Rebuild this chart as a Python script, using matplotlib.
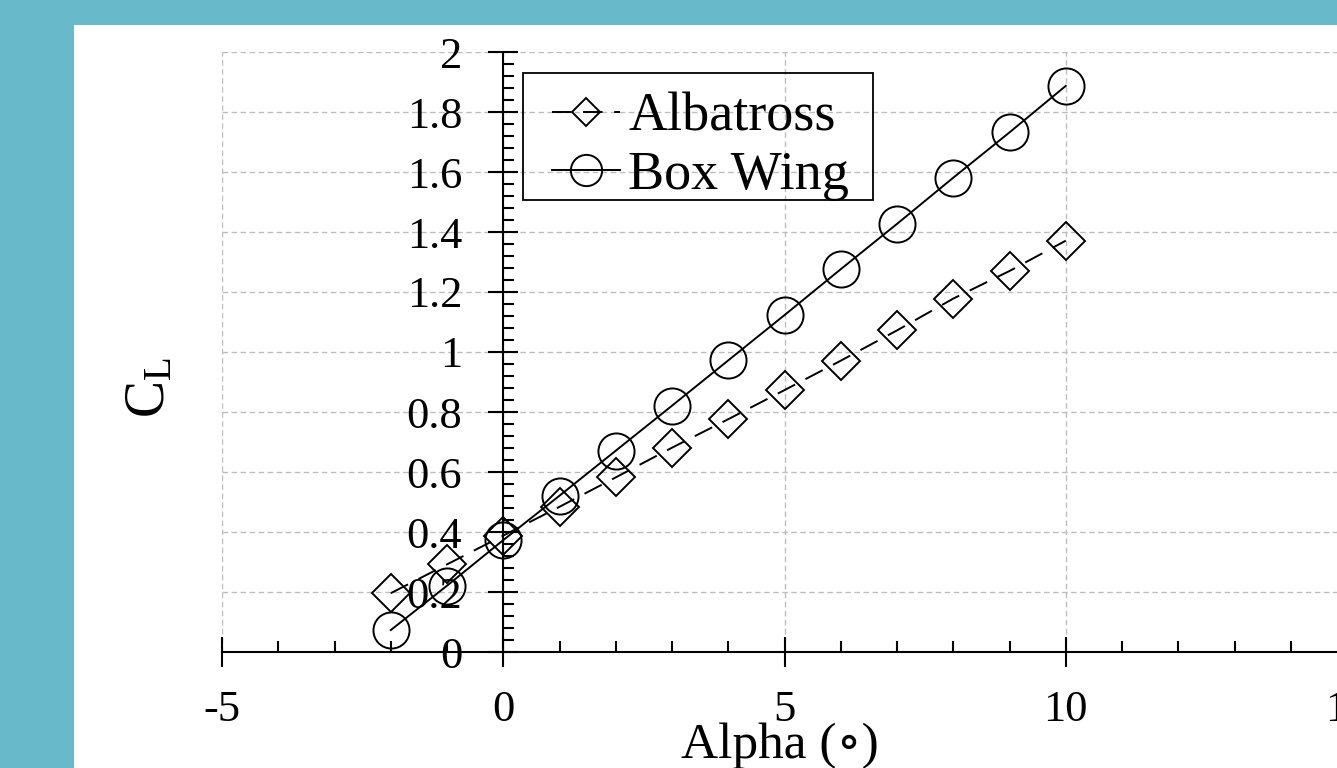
import matplotlib
matplotlib.use("Agg")
import matplotlib.pyplot as plt
from matplotlib.patches import Rectangle
from matplotlib.lines import Line2D
from matplotlib.ticker import MultipleLocator, FuncFormatter

plt.rcParams["font.family"] = ["Liberation Serif", "DejaVu Serif"]
plt.rcParams["mathtext.fontset"] = "custom"
plt.rcParams["mathtext.rm"] = "Liberation Serif"
plt.rcParams["axes.unicode_minus"] = False

# angle of attack (deg) and lift coefficient
alpha = [-2, -1, 0, 1, 2, 3, 4, 5, 6, 7, 8, 9, 10]
cl_albatross = [0.196, 0.292, 0.388, 0.484, 0.582, 0.681, 0.776, 0.873,
                0.971, 1.072, 1.178, 1.270, 1.371]
cl_boxwing = [0.073, 0.221, 0.373, 0.521, 0.671, 0.821, 0.972, 1.123,
              1.276, 1.427, 1.581, 1.732, 1.887]
labels = ["Albatross", "Box Wing"]

W, H = 1337, 768
fig = plt.figure(figsize=(W / 100, H / 100), dpi=100, facecolor="#68bacb")
fig.patches.append(Rectangle((74 / W, 0), 1, (H - 25) / H, transform=fig.transFigure,
                             facecolor="white", edgecolor="none", zorder=-5))

# axes: x -5..15 spans px 222..1347, y 0..2 spans px 652..52
ax = fig.add_axes([222 / W, (H - 652) / H, 1125 / W, 600 / H])
ax.set_facecolor("none")
ax.set_xlim(-5, 15)
ax.set_ylim(0, 2)

for s in ("top", "right"):
    ax.spines[s].set_visible(False)
ax.spines["left"].set_position(("data", 0))
ax.spines["left"].set_linewidth(1.5)
ax.spines["bottom"].set_linewidth(1.5)

ax.xaxis.set_major_locator(MultipleLocator(5))
ax.xaxis.set_minor_locator(MultipleLocator(1))
ax.yaxis.set_major_locator(MultipleLocator(0.2))
ax.yaxis.set_minor_locator(MultipleLocator(0.04))
ax.yaxis.set_major_formatter(FuncFormatter(lambda v, p: f"{v:g}"))
ax.xaxis.set_major_formatter(FuncFormatter(lambda v, p: f"{v:g}"))

ax.tick_params(which="major", direction="inout", length=21, width=1.5, labelsize=32)
ax.tick_params(which="minor", direction="in", length=8, width=1.5)
ax.tick_params(axis="y", which="major", pad=19)
ax.tick_params(axis="x", which="major", pad=17)

ax.grid(True, which="major", color="#bdbdbd", ls=(0, (4, 2.5)), lw=1.0)
ax.set_axisbelow(True)

lw = 1.4
ax.plot(alpha, cl_albatross, color="k", lw=lw, ls=(0, (10, 6)), marker="D",
        ms=19, mfc="none", mew=lw, zorder=3)
ax.plot(alpha, cl_boxwing, color="k", lw=lw, ls="-", marker="o",
        ms=26, mfc="none", mew=lw, zorder=3)

# legend: content without frame, frame drawn separately
handles = [
    Line2D([], [], color="k", lw=lw, ls=(0, (10, 6)), marker="D", ms=14.5,
           mfc="none", mew=lw),
    Line2D([], [], color="k", lw=lw, ls="-", marker="o", ms=22.5,
           mfc="none", mew=lw),
]
ax.legend(handles, labels, loc="upper left",
          bbox_to_anchor=(552 / W, 1 - 92 / H), bbox_transform=fig.transFigure,
          borderaxespad=0, borderpad=0, fontsize=39, frameon=False,
          handlelength=1.26, handletextpad=0.15, labelspacing=0.15)
fig.patches.append(Rectangle((523 / W, 1 - 200 / H), 350 / W, 127 / H,
                             transform=fig.transFigure, facecolor="none",
                             edgecolor="k", lw=1.3, zorder=5))

fig.text(150 / W, 1 - 388 / H, r"$\mathrm{C_L}$", rotation=90, fontsize=40,
         ha="center", va="center")
fig.text(780 / W, 1 - 758 / H, "Alpha (\u2218)", fontsize=37,
         ha="center", va="baseline")

fig.savefig("out.png", dpi=100, facecolor=fig.get_facecolor())
